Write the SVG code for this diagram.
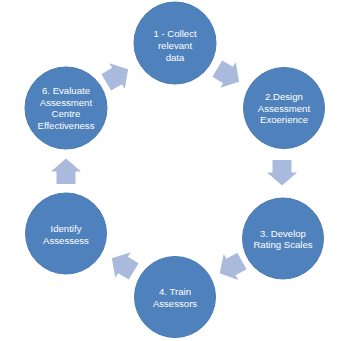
<svg xmlns="http://www.w3.org/2000/svg" width="350" height="341" viewBox="0 0 350 341">
<defs>
<style>
.node circle{fill:#4f81bd;stroke:#4a7bb5;stroke-width:1}
.node text{font-family:"Liberation Sans",Arial,sans-serif;font-size:9.6px;fill:#ffffff;text-anchor:middle}
.arrow{fill:#a9badc}
</style>
<path id="arr" d="M-12.5,-9.5 L0,-9.5 L0,-15 L13,0 L0,15 L0,9.5 L-12.5,9.5 Z"/>
</defs>
<rect width="350" height="341" fill="#ffffff"/>
<g id="connectors">
<use href="#arr" class="arrow" transform="translate(117,76) rotate(-31)"/>
<use href="#arr" class="arrow" transform="translate(228,75) rotate(31)"/>
<use href="#arr" class="arrow" transform="translate(282,172.5) rotate(90)"/>
<use href="#arr" class="arrow" transform="translate(231,267) rotate(151)"/>
<use href="#arr" class="arrow" transform="translate(123,265) rotate(211)"/>
<use href="#arr" class="arrow" transform="translate(66,171.5) rotate(-90)"/>
</g>
<g id="node1" class="node">
<circle cx="175" cy="43" r="41"/>
<text x="175" y="36.5">1 - Collect</text>
<text x="175" y="48.5">relevant</text>
<text x="175" y="60.5">data</text>
</g>
<g id="node2" class="node">
<circle cx="284" cy="108" r="40.5"/>
<text x="284" y="99.5">2.Design</text>
<text x="284" y="111.5">Assessment</text>
<text x="284" y="123">Exoerience</text>
</g>
<g id="node3" class="node">
<circle cx="283" cy="238.5" r="40.5"/>
<text x="283" y="236.5">3. Develop</text>
<text x="283" y="248">Rating Scales</text>
</g>
<g id="node4" class="node">
<circle cx="175" cy="297" r="40.5"/>
<text x="175" y="294.5">4. Train</text>
<text x="175" y="306.5">Assessors</text>
</g>
<g id="node5" class="node">
<circle cx="66" cy="233.5" r="40.5"/>
<text x="66" y="231.5">Identify</text>
<text x="66" y="243.5">Assessess</text>
</g>
<g id="node6" class="node">
<circle cx="66" cy="108" r="41"/>
<text x="66" y="93.5">6. Evaluate</text>
<text x="66" y="105.5">Assessment</text>
<text x="66" y="117">Centre</text>
<text x="66" y="128.5">Effectiveness</text>
</g>
</svg>
